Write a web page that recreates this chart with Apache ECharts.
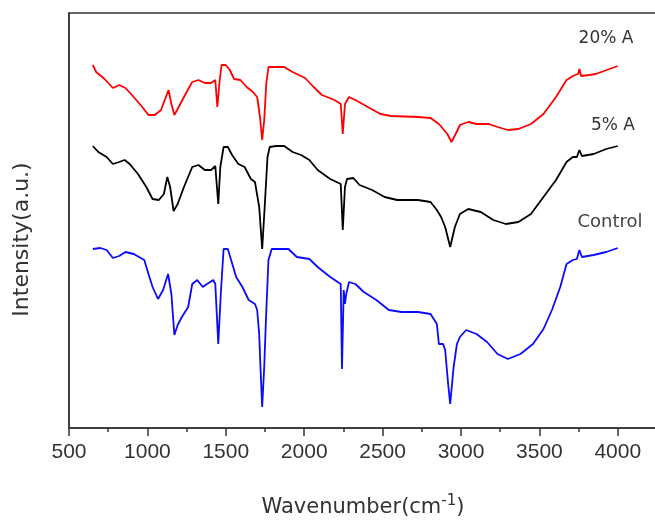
<!DOCTYPE html>
<html>
<head>
    <meta charset="utf-8">
    <title>FTIR</title>
    <style>
        html, body { margin: 0; padding: 0; background: #fff; }
        #container { width: 655px; height: 522px; }
    </style>
</head>
<body>
<div id="container"></div>
<script src="https://cdn.jsdelivr.net/npm/echarts@6/dist/echarts.min.js"></script>
<script type="text/javascript">
    // wavenumber (cm-1) / intensity (a.u., offset curves)
    var redWave = [652, 673, 727, 780, 820, 860, 913, 967, 1007, 1047, 1087, 1113, 1135, 1153, 1172, 1193, 1233, 1286, 1326, 1366, 1406, 1433, 1446, 1460, 1473, 1500, 1526, 1553, 1593, 1633, 1673, 1700, 1718, 1732, 1745, 1758, 1772, 1820, 1873, 1926, 2006, 2060, 2113, 2193, 2233, 2246, 2260, 2286, 2326, 2406, 2486, 2553, 2726, 2806, 2859, 2913, 2939, 2966, 2993, 3046, 3099, 3179, 3233, 3299, 3366, 3446, 3526, 3606, 3673, 3713, 3747, 3755, 3766, 3819, 3859, 3912, 4000];
    var redInt = [363, 356, 349, 340, 343, 340, 331, 321, 313, 313, 318, 329, 338, 324, 313, 319, 331, 346, 348, 345, 345, 348, 321, 346, 363, 363, 358, 349, 348, 341, 336, 331, 311, 288, 308, 344, 361, 361, 361, 356, 350, 341, 333, 328, 324, 294, 324, 331, 328, 321, 314, 312, 311, 310, 304, 294, 286, 294, 303, 306, 304, 304, 301, 298, 299, 304, 314, 331, 348, 352, 354, 359, 352, 353, 354, 357, 362];

    var blackWave = [652, 687, 740, 780, 820, 855, 887, 940, 993, 1033, 1073, 1105, 1127, 1145, 1167, 1193, 1233, 1286, 1326, 1366, 1406, 1433, 1452, 1465, 1486, 1513, 1540, 1580, 1620, 1660, 1686, 1713, 1732, 1748, 1766, 1780, 1820, 1873, 1926, 1980, 2033, 2086, 2166, 2233, 2246, 2260, 2273, 2313, 2353, 2433, 2513, 2593, 2726, 2806, 2846, 2873, 2899, 2931, 2961, 2993, 3046, 3126, 3206, 3286, 3366, 3446, 3526, 3606, 3673, 3713, 3739, 3755, 3771, 3846, 3926, 4000];
    var blackInt = [282, 276, 271, 264, 266, 268, 264, 254, 241, 229, 228, 234, 251, 241, 217, 224, 241, 261, 263, 258, 258, 262, 224, 261, 281, 281, 273, 264, 261, 249, 246, 221, 179, 221, 271, 281, 282, 282, 276, 273, 268, 258, 249, 244, 198, 241, 249, 250, 243, 238, 231, 228, 228, 226, 218, 211, 201, 181, 201, 214, 219, 216, 208, 204, 206, 214, 231, 248, 266, 271, 271, 278, 272, 274, 279, 282];

    var ctrlWave = [652, 700, 740, 780, 820, 860, 913, 980, 1007, 1033, 1068, 1100, 1132, 1153, 1172, 1193, 1220, 1260, 1286, 1318, 1353, 1380, 1420, 1433, 1452, 1468, 1486, 1513, 1534, 1566, 1606, 1646, 1686, 1700, 1713, 1721, 1732, 1745, 1756, 1772, 1793, 1846, 1900, 1953, 2033, 2086, 2166, 2233, 2241, 2252, 2260, 2268, 2286, 2326, 2380, 2460, 2540, 2620, 2726, 2806, 2846, 2859, 2886, 2899, 2918, 2931, 2953, 2974, 2993, 3033, 3099, 3166, 3233, 3299, 3379, 3459, 3526, 3580, 3633, 3673, 3713, 3739, 3755, 3771, 3846, 3926, 4000];
    var ctrlInt = [179, 180, 178, 170, 172, 176, 174, 168, 154, 141, 129, 138, 154, 134, 93, 103, 111, 121, 144, 148, 141, 144, 148, 144, 84, 134, 179, 179, 168, 151, 141, 128, 124, 118, 94, 61, 21, 61, 108, 168, 179, 179, 179, 171, 169, 161, 151, 144, 59, 138, 124, 134, 146, 144, 136, 128, 118, 116, 116, 114, 104, 84, 84, 78, 44, 24, 61, 84, 91, 98, 94, 86, 74, 69, 74, 84, 99, 118, 141, 164, 168, 169, 178, 171, 173, 176, 180];

    var seriesNames = ['20% A', '5% A', 'Control'];
    var xTicks = [500, 1000, 1500, 2000, 2500, 3000, 3500, 4000];

    function pairs(xs, ys) {
        var out = [];
        for (var i = 0; i < xs.length; i++) out.push([xs[i], ys[i]]);
        return out;
    }

    var myChart = echarts.init(document.getElementById('container'));

    var option = {
        animation: false,
        backgroundColor: '#fff',
        grid: {
            left: 69,
            top: 13,
            width: 588,
            height: 415,
            outerBoundsMode: 'none',
            show: true,
            borderColor: '#333',
            borderWidth: 1.5
        },
        xAxis: {
            type: 'value',
            min: 500,
            max: 4250,
            interval: 500,
            name: '{a|Wavenumber(cm}{s|-1}{a|)}',
            nameLocation: 'middle',
            nameGap: 66,
            nameTextStyle: {
                rich: {
                    a: {fontFamily: 'DejaVu Sans', fontSize: 21, color: '#333', lineHeight: 28},
                    s: {fontFamily: 'DejaVu Sans', fontSize: 15, color: '#333', lineHeight: 12, verticalAlign: 'top'}
                }
            },
            axisLine: {lineStyle: {color: '#333', width: 1.5}},
            axisTick: {length: 8, lineStyle: {color: '#333', width: 1.5}},
            minorTick: {show: true, splitNumber: 2, length: 4, lineStyle: {color: '#333', width: 1.5}},
            splitLine: {show: false},
            axisLabel: {
                margin: 14,
                fontFamily: 'Liberation Sans, Arial',
                fontSize: 21,
                color: '#333',
                formatter: function (v) {
                    return xTicks.indexOf(v) >= 0 ? String(v) : '';
                }
            }
        },
        yAxis: {
            type: 'value',
            min: 0,
            max: 415,
            name: 'Intensity(a.u.)',
            nameLocation: 'middle',
            nameGap: 36,
            nameTextStyle: {
                fontFamily: 'DejaVu Sans',
                fontSize: 22,
                color: '#333',
                padding: [0, 38, 0, 0]
            },
            axisLine: {show: true, lineStyle: {color: '#333', width: 1.5}},
            axisTick: {show: false},
            axisLabel: {show: false},
            splitLine: {show: false}
        },
        graphic: [
            {type: 'text', x: 606, y: 39, style: {text: seriesNames[0], font: '17px DejaVu Sans', fill: '#333', textAlign: 'center', textVerticalAlign: 'middle', align: 'center', verticalAlign: 'middle'}},
            {type: 'text', x: 613, y: 126, style: {text: seriesNames[1], font: '17px DejaVu Sans', fill: '#333', textAlign: 'center', textVerticalAlign: 'middle', align: 'center', verticalAlign: 'middle'}},
            {type: 'text', x: 610, y: 222, style: {text: seriesNames[2], font: '18px DejaVu Sans', fill: '#444', textAlign: 'center', textVerticalAlign: 'middle', align: 'center', verticalAlign: 'middle'}}
        ],
        series: [
            {
                name: seriesNames[0],
                type: 'line',
                data: pairs(redWave, redInt),
                showSymbol: false,
                lineStyle: {color: '#ff0000', width: 1.8},
                itemStyle: {color: '#ff0000'}
            },
            {
                name: seriesNames[1],
                type: 'line',
                data: pairs(blackWave, blackInt),
                showSymbol: false,
                lineStyle: {color: '#000000', width: 1.8},
                itemStyle: {color: '#000000'}
            },
            {
                name: seriesNames[2],
                type: 'line',
                data: pairs(ctrlWave, ctrlInt),
                showSymbol: false,
                lineStyle: {color: '#0a0aff', width: 1.8},
                itemStyle: {color: '#0a0aff'}
            }
        ]
    };

    myChart.setOption(option);
</script>
</body>
</html>
